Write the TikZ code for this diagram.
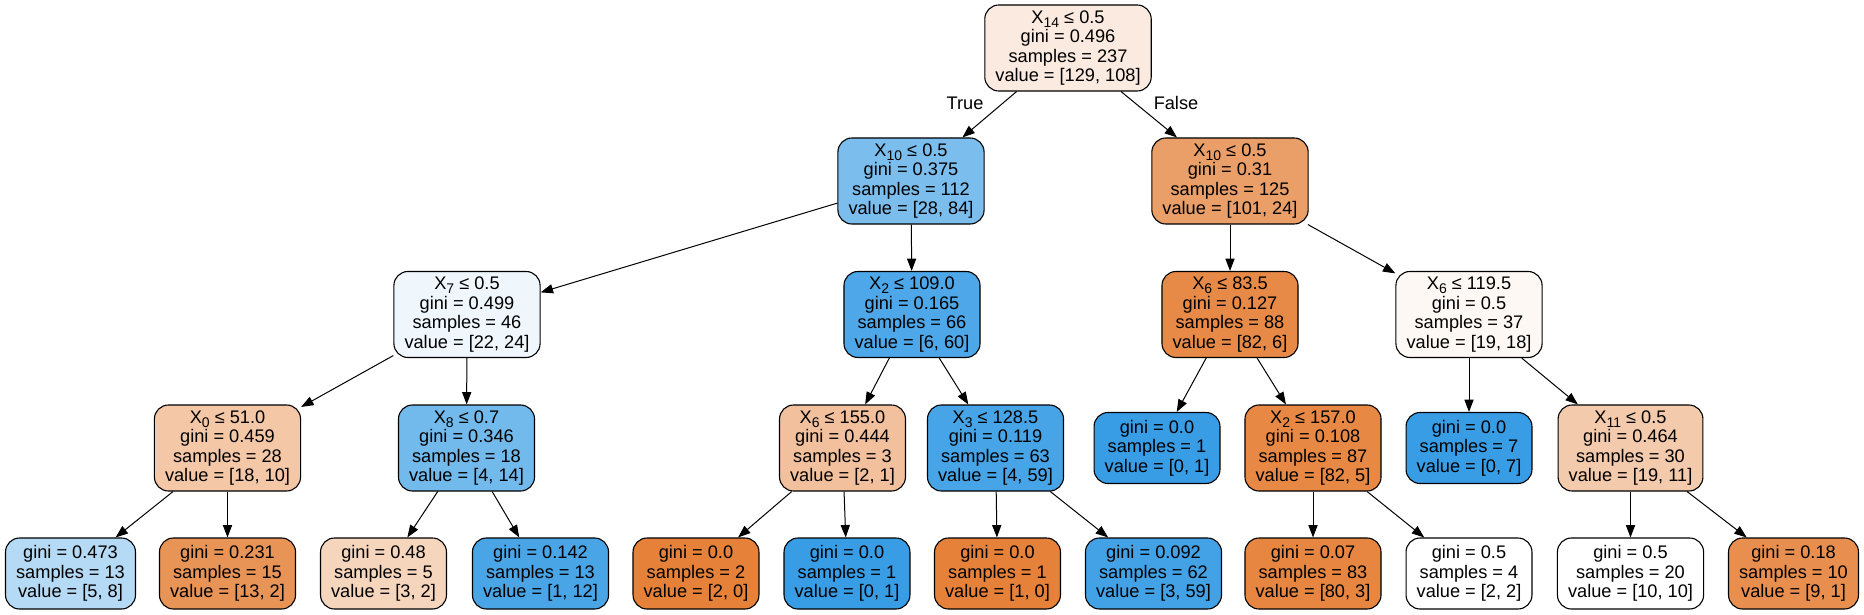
\documentclass[tikz,border=0pt]{standalone}
\usepackage{fontspec}
\setmainfont{Liberation Sans}
\usetikzlibrary{arrows.meta}
\newcommand\sbs[1]{\raisebox{-2pt}{\fontsize{7pt}{7pt}\selectfont #1}}
\definecolor{cRoot}{RGB}{251,234,223}
\definecolor{cAL}{RGB}{123,190,238}
\definecolor{cAR}{RGB}{235,159,104}
\definecolor{cXseven}{RGB}{239,247,253}
\definecolor{cXtwoA}{RGB}{77,167,232}
\definecolor{cXsixA}{RGB}{231,138,71}
\definecolor{cXsixB}{RGB}{254,248,245}
\definecolor{cXzero}{RGB}{244,199,167}
\definecolor{cXeight}{RGB}{114,185,236}
\definecolor{cXsixC}{RGB}{242,192,156}
\definecolor{cXthree}{RGB}{70,164,231}
\definecolor{pBlue}{RGB}{57,157,229}
\definecolor{pOrange}{RGB}{229,129,57}
\definecolor{cXtwoB}{RGB}{231,137,69}
\definecolor{cXeleven}{RGB}{244,202,172}
\definecolor{cLa}{RGB}{181,218,245}
\definecolor{cLb}{RGB}{233,148,87}
\definecolor{cLc}{RGB}{246,213,189}
\definecolor{cLd}{RGB}{74,165,231}
\definecolor{cLh}{RGB}{67,162,230}
\definecolor{cLi}{RGB}{230,134,64}
\definecolor{cLl}{RGB}{232,143,79}
\begin{document}
\begin{tikzpicture}[x=0.5pt,y=-0.5pt,
  tn/.style={draw=black, line width=0.55pt, rounded corners=7pt, align=center,
    inner xsep=5.3pt, inner ysep=0pt, font=\fontsize{9.1pt}{9.75pt}\selectfont},
  split/.style={tn, minimum height=43pt},
  leaf/.style={tn, minimum height=35.5pt},
  edge/.style={draw, line width=0.5pt, -{Triangle[length=6.2pt,width=4.6pt]}},
  lab/.style={font=\fontsize{9.1pt}{9.75pt}\selectfont, inner sep=0pt}]
\useasboundingbox (0,0) rectangle (1864,615);
\fill[white] (0,0) rectangle (1864,615);
% level 0
\node[split, fill=cRoot] (n0) at (1068,48) {X\sbs{14} ≤ 0.5\\gini = 0.496\\samples = 237\\value = [129, 108]};
% level 1
\node[split, fill=cAL] (n1) at (911,181) {X\sbs{10} ≤ 0.5\\gini = 0.375\\samples = 112\\value = [28, 84]};
\node[split, fill=cAR] (n2) at (1230,181) {X\sbs{10} ≤ 0.5\\gini = 0.31\\samples = 125\\value = [101, 24]};
% level 2
\node[split, fill=cXseven] (n3) at (467,314.5) {X\sbs{7} ≤ 0.5\\gini = 0.499\\samples = 46\\value = [22, 24]};
\node[split, fill=cXtwoA] (n4) at (912,314.5) {X\sbs{2} ≤ 109.0\\gini = 0.165\\samples = 66\\value = [6, 60]};
\node[split, fill=cXsixA] (n5) at (1230,314.5) {X\sbs{6} ≤ 83.5\\gini = 0.127\\samples = 88\\value = [82, 6]};
\node[split, fill=cXsixB] (n6) at (1469,314.5) {X\sbs{6} ≤ 119.5\\gini = 0.5\\samples = 37\\value = [19, 18]};
% level 3
\node[split, fill=cXzero] (n7) at (227.5,448) {X\sbs{0} ≤ 51.0\\gini = 0.459\\samples = 28\\value = [18, 10]};
\node[split, fill=cXeight] (n8) at (466.5,448) {X\sbs{8} ≤ 0.7\\gini = 0.346\\samples = 18\\value = [4, 14]};
\node[split, fill=cXsixC] (n9) at (842.5,448) {X\sbs{6} ≤ 155.0\\gini = 0.444\\samples = 3\\value = [2, 1]};
\node[split, fill=cXthree] (n10) at (995.5,448) {X\sbs{3} ≤ 128.5\\gini = 0.119\\samples = 63\\value = [4, 59]};
\node[leaf, fill=pBlue] (n11) at (1157,448) {gini = 0.0\\samples = 1\\value = [0, 1]};
\node[split, fill=cXtwoB] (n12) at (1313,448) {X\sbs{2} ≤ 157.0\\gini = 0.108\\samples = 87\\value = [82, 5]};
\node[leaf, fill=pBlue] (n13) at (1469,448) {gini = 0.0\\samples = 7\\value = [0, 7]};
\node[split, fill=cXeleven] (n14) at (1630.5,448) {X\sbs{11} ≤ 0.5\\gini = 0.464\\samples = 30\\value = [19, 11]};
% level 4
\node[leaf, fill=cLa] (l1) at (70.5,573.5) {gini = 0.473\\samples = 13\\value = [5, 8]};
\node[leaf, fill=cLb] (l2) at (227.5,573.5) {gini = 0.231\\samples = 15\\value = [13, 2]};
\node[leaf, fill=cLc] (l3) at (383.5,573.5) {gini = 0.48\\samples = 5\\value = [3, 2]};
\node[leaf, fill=cLd] (l4) at (540.5,573.5) {gini = 0.142\\samples = 13\\value = [1, 12]};
\node[leaf, fill=pOrange] (l5) at (696,573.5) {gini = 0.0\\samples = 2\\value = [2, 0]};
\node[leaf, fill=pBlue] (l6) at (847,573.5) {gini = 0.0\\samples = 1\\value = [0, 1]};
\node[leaf, fill=pOrange] (l7) at (997.5,573.5) {gini = 0.0\\samples = 1\\value = [1, 0]};
\node[leaf, fill=cLh] (l8) at (1153.5,573.5) {gini = 0.092\\samples = 62\\value = [3, 59]};
\node[leaf, fill=cLi] (l9) at (1313,573.5) {gini = 0.07\\samples = 83\\value = [80, 3]};
\node[leaf, fill=white] (l10) at (1469,573.5) {gini = 0.5\\samples = 4\\value = [2, 2]};
\node[leaf, fill=white] (l11) at (1630.5,573.5) {gini = 0.5\\samples = 20\\value = [10, 10]};
\node[leaf, fill=cLl] (l12) at (1793.5,573.5) {gini = 0.18\\samples = 10\\value = [9, 1]};
% labels
\node[lab] (tTrue) at (965,103) {True};
\node[lab] (tFalse) at (1176,103) {False};
% edges
\path[edge] (n0) -- (n1);
\path[edge] (n0) -- (n2);
\path[edge] (n1) -- (n3);
\path[edge] (n1) -- (n4);
\path[edge] (n2) -- (n5);
\path[edge] (n2) -- (n6);
\path[edge] (n3) -- (n7);
\path[edge] (n3) -- (n8);
\path[edge] (n4) -- (n9);
\path[edge] (n4) -- (n10);
\path[edge] (n5) -- (n11);
\path[edge] (n5) -- (n12);
\path[edge] (n6) -- (n13);
\path[edge] (n6) -- (n14);
\path[edge] (n7) -- (l1);
\path[edge] (n7) -- (l2);
\path[edge] (n8) -- (l3);
\path[edge] (n8) -- (l4);
\path[edge] (n9) -- (l5);
\path[edge] (n9) -- (l6);
\path[edge] (n10) -- (l7);
\path[edge] (n10) -- (l8);
\path[edge] (n12) -- (l9);
\path[edge] (n12) -- (l10);
\path[edge] (n14) -- (l11);
\path[edge] (n14) -- (l12);
\end{tikzpicture}
\end{document}
